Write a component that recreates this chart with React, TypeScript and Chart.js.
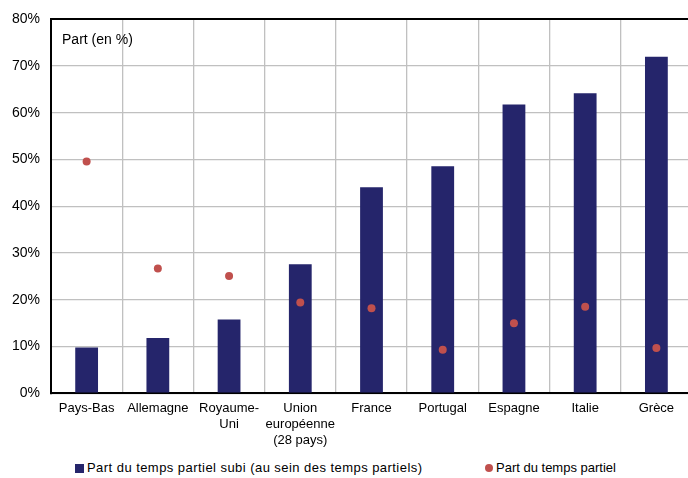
import React, { useEffect, useRef } from "react";
import { Chart, registerables } from "chart.js";

Chart.register(...registerables);

const categories: (string | string[])[] = [
  "Pays-Bas",
  "Allemagne",
  ["Royaume-", "Uni"],
  ["Union", "européenne", "(28 pays)"],
  "France",
  "Portugal",
  "Espagne",
  "Italie",
  "Grèce",
];
const partSubi = [9.8, 11.8, 15.8, 27.6, 44.1, 48.6, 61.8, 64.2, 72.0];
const partTempsPartiel = [49.6, 26.7, 25.1, 19.4, 18.2, 9.3, 15.0, 18.5, 9.7];
const yTicks = [0, 10, 20, 30, 40, 50, 60, 70, 80];

const seriesLabels = [
  "Part du temps partiel subi (au sein des temps partiels)",
  "Part du temps partiel",
];
const barColor = "#25256b";
const dotColor = "#c0504d";
const FONT = "'Liberation Sans', Arial, sans-serif";

export default function App() {
  const ref = useRef<HTMLCanvasElement | null>(null);

  useEffect(() => {
    if (!ref.current) return;
    const annot = {
      id: "annot",
      afterDraw(chart: any) {
        const { ctx, chartArea } = chart;
        ctx.save();
        ctx.font = `14px ${FONT}`;
        ctx.fillStyle = "#000";
        ctx.textBaseline = "middle";
        ctx.textAlign = "left";
        ctx.fillText("Part (en %)", chartArea.left + 11, chartArea.top + 21);
        ctx.restore();
      },
    };
    const chart = new Chart(ref.current, {
      type: "bar",
      data: {
        labels: categories,
        datasets: [
          {
            type: "line",
            label: seriesLabels[1],
            data: partTempsPartiel,
            showLine: false,
            pointRadius: 4,
            pointHoverRadius: 4,
            pointBackgroundColor: dotColor,
            pointBorderWidth: 0,
            borderColor: dotColor,
            backgroundColor: dotColor,
            order: 0,
          } as any,
          {
            type: "bar",
            label: seriesLabels[0],
            data: partSubi,
            backgroundColor: barColor,
            borderWidth: 0,
            barPercentage: 0.32,
            categoryPercentage: 1,
            order: 1,
          },
        ],
      },
      options: {
        animation: false,
        responsive: true,
        maintainAspectRatio: false,
        layout: { padding: { left: 1, top: 19, right: 0, bottom: 0 } },
        plugins: {
          legend: { display: false },
          tooltip: { enabled: false },
        },
        scales: {
          x: {
            afterFit: (scale: any) => {
              scale.paddingLeft = 0;
              scale.paddingRight = 0;
            },
            grid: {
              offset: true,
              color: "#c0c0c0",
              lineWidth: 1.3,
              drawTicks: false,
            },
            border: { color: "#000", width: 2 },
            ticks: {
              color: "#000",
              font: { family: FONT, size: 13, lineHeight: 1.25 },
              padding: 7,
              maxRotation: 0,
              autoSkip: false,
            },
          },
          y: {
            min: 0,
            max: 80,
            afterBuildTicks: (scale: any) => {
              scale.ticks = yTicks.map((v) => ({ value: v }));
            },
            grid: {
              color: (c: any) => (c.tick && c.tick.value === 80 ? "#000" : "#c0c0c0"),
              lineWidth: (c: any) => (c.tick && c.tick.value === 80 ? 2 : 1.3),
              drawTicks: false,
            },
            border: { color: "#000", width: 2 },
            ticks: {
              color: "#000",
              font: { family: FONT, size: 14 },
              padding: 11,
              callback: (v: any) => `${v}%`,
            },
          },
        },
      },
      plugins: [annot],
    });
    return () => chart.destroy();
  }, []);

  const legendText: React.CSSProperties = {
    position: "absolute",
    top: 459,
    fontFamily: FONT,
    fontSize: 13,
    lineHeight: "18px",
    color: "#000",
    whiteSpace: "nowrap",
  };

  return (
    <div
      style={{
        position: "fixed",
        left: 0,
        top: 0,
        width: 688,
        height: 478,
        overflow: "hidden",
        background: "#fff",
      }}
    >
      <div style={{ position: "absolute", left: 0, top: 0, width: 696, height: 456 }}>
        <canvas ref={ref} />
      </div>
      <div style={{ position: "absolute", left: 75, top: 464, width: 9, height: 9, background: barColor }} />
      <div style={{ ...legendText, left: 87, letterSpacing: "0.45px" }}>{seriesLabels[0]}</div>
      <div
        style={{
          position: "absolute",
          left: 485,
          top: 464,
          width: 8,
          height: 8,
          borderRadius: "50%",
          background: dotColor,
        }}
      />
      <div style={{ ...legendText, left: 496 }}>{seriesLabels[1]}</div>
    </div>
  );
}
